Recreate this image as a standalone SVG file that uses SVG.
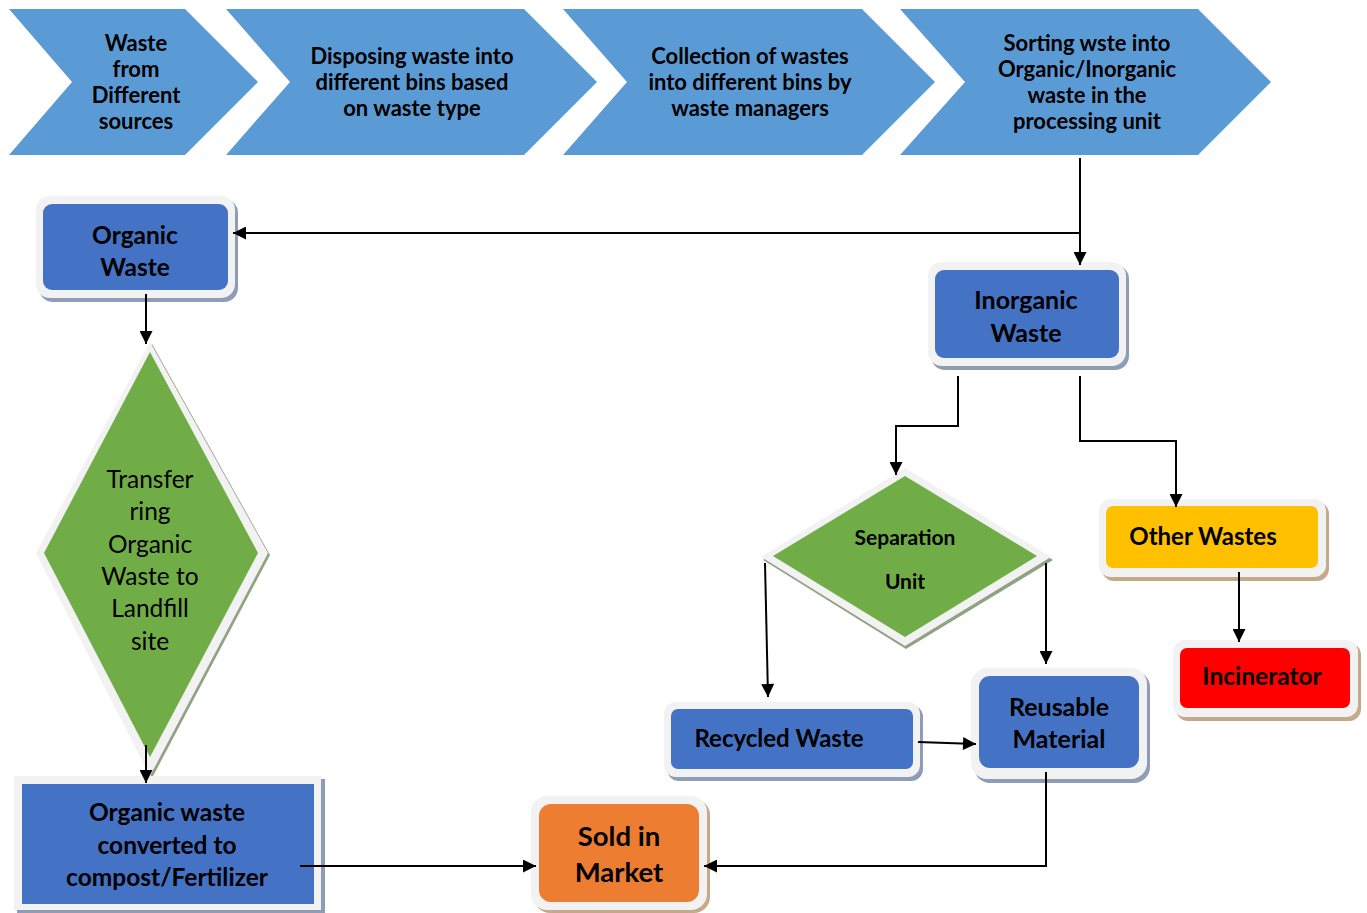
<svg xmlns="http://www.w3.org/2000/svg" width="1367" height="913" viewBox="0 0 1367 913">
<defs>
<marker id="ah" viewBox="0 0 10 10" refX="10" refY="5" markerWidth="14" markerHeight="13" markerUnits="userSpaceOnUse" orient="auto">
<path d="M0,0 L10,5 L0,10 z" fill="#000"/>
</marker>
<style>
.chev{fill:#5B9BD5}
.t{font-family:Lato,"Liberation Sans",sans-serif;font-weight:bold;fill:#000;text-anchor:middle;dominant-baseline:central}
.tr{font-family:Lato,"Liberation Sans",sans-serif;font-weight:normal;fill:#000;text-anchor:middle;dominant-baseline:central}
.rim{fill:#F2F2F2}
.sb{fill:#8E9CB6}
.so{fill:#C4A98A}
.sg{fill:#8FA283}
.blue{fill:#4472C4}
.c{fill:none;stroke:#000;stroke-width:2;marker-end:url(#ah)}
</style>
</defs>
<rect width="1367" height="913" fill="#fff"/>

<g id="step1">
<polygon class="chev" points="9,9 185,9 258,82 185,155 9,155 72,82"/>
<text class="t" font-size="22"><tspan x="136" y="42">Waste</tspan><tspan x="136" y="68">from</tspan><tspan x="136" y="94">Different</tspan><tspan x="136" y="120">sources</tspan></text>
</g>
<g id="step2">
<polygon class="chev" points="226,9 524,9 597,82 524,155 226,155 290,82"/>
<text class="t" font-size="22"><tspan x="412" y="55">Disposing waste into</tspan><tspan x="412" y="81">different bins based</tspan><tspan x="412" y="107">on waste type</tspan></text>
</g>
<g id="step3">
<polygon class="chev" points="563,9 862,9 935,82 862,155 563,155 627,82"/>
<text class="t" font-size="22"><tspan x="750" y="55">Collection of wastes</tspan><tspan x="750" y="81">into different bins by</tspan><tspan x="750" y="107">waste managers</tspan></text>
</g>
<g id="step4">
<polygon class="chev" points="900,9 1198,9 1271,82 1198,155 900,155 965,82"/>
<text class="t" font-size="22"><tspan x="1087" y="42">Sorting wste into</tspan><tspan x="1087" y="68">Organic/Inorganic</tspan><tspan x="1087" y="94">waste in the</tspan><tspan x="1087" y="120">processing unit</tspan></text>
</g>

<g id="organic-waste">
<rect class="sb" x="39" y="199" width="199" height="103" rx="14"/>
<rect class="rim" x="36" y="196" width="199" height="102" rx="14"/>
<rect class="blue" x="43" y="204" width="185" height="86" rx="9"/>
<text class="t" font-size="24.5"><tspan x="135" y="234">Organic</tspan><tspan x="135" y="266">Waste</tspan></text>
</g>

<g id="inorganic-waste">
<rect class="sb" x="931" y="265" width="198" height="105" rx="14"/>
<rect class="rim" x="928" y="262" width="198" height="104" rx="14"/>
<rect class="blue" x="935" y="270" width="184" height="88" rx="9"/>
<text class="t" font-size="25"><tspan x="1026" y="299">Inorganic</tspan><tspan x="1026" y="332">Waste</tspan></text>
</g>

<g id="landfill">
<polygon class="sg" points="152,344 270,555 152,778 38,555"/>
<polygon class="rim" points="150,342 268,553 150,776 36,553"/>
<polygon fill="#70AD47" points="150,352 258,553 150,757 44,553"/>
<text class="tr" font-size="24.5"><tspan x="150" y="478">Transfer</tspan><tspan x="150" y="510">ring</tspan><tspan x="150" y="543">Organic</tspan><tspan x="150" y="575">Waste to</tspan><tspan x="150" y="607">Landfill</tspan><tspan x="150" y="640">site</tspan></text>
</g>

<g id="compost">
<rect class="sb" x="17" y="779" width="308" height="134"/>
<rect class="rim" x="14" y="776" width="307" height="134"/>
<rect class="blue" x="22" y="784" width="292" height="120"/>
<text class="t" font-size="24.5"><tspan x="167" y="811">Organic waste</tspan><tspan x="167" y="844">converted to</tspan><tspan x="167" y="876">compost/Fertilizer</tspan></text>
</g>

<g id="sold-in-market">
<rect class="so" x="534" y="799" width="176" height="114" rx="16"/>
<rect class="rim" x="531" y="796" width="176" height="114" rx="16"/>
<rect fill="#ED7D31" x="539" y="804" width="160" height="98" rx="12"/>
<text class="t" font-size="27.5"><tspan x="619" y="835">Sold in</tspan><tspan x="619" y="871">Market</tspan></text>
</g>

<g id="separation-unit">
<polygon class="sg" points="906,471 1053,560 906,649 763,560"/>
<polygon class="rim" points="905,468 1051,557 905,646 761,557"/>
<polygon fill="#70AD47" points="905,476 1037,556 905,637 773,556"/>
<text class="t" font-size="21"><tspan x="905" y="536">Separation</tspan><tspan x="905" y="580">Unit</tspan></text>
</g>

<g id="recycled-waste">
<rect class="sb" x="667" y="705" width="256" height="76" rx="12"/>
<rect class="rim" x="664" y="702" width="256" height="75" rx="12"/>
<rect class="blue" x="671" y="709" width="242" height="60" rx="7"/>
<text class="t" font-size="24"><tspan x="779" y="737">Recycled Waste</tspan></text>
</g>

<g id="reusable-material">
<rect class="sb" x="974" y="671" width="176" height="112" rx="16"/>
<rect class="rim" x="971" y="668" width="176" height="111" rx="16"/>
<rect class="blue" x="979" y="676" width="160" height="92" rx="11"/>
<text class="t" font-size="25"><tspan x="1059" y="706">Reusable</tspan><tspan x="1059" y="738">Material</tspan></text>
</g>

<g id="other-wastes">
<rect class="so" x="1102" y="502" width="227" height="79" rx="12"/>
<rect class="rim" x="1099" y="499" width="227" height="78" rx="12"/>
<rect fill="#FFC000" x="1106" y="506" width="212" height="62" rx="7"/>
<text class="t" font-size="24"><tspan x="1203" y="535">Other Wastes</tspan></text>
</g>

<g id="incinerator">
<rect class="so" x="1176" y="643" width="185" height="78" rx="12"/>
<rect class="rim" x="1173" y="640" width="185" height="77" rx="12"/>
<rect fill="#FF0000" x="1180" y="648" width="170" height="60" rx="7"/>
<text class="t" font-size="24.5"><tspan x="1262" y="675">Incinerator</tspan></text>
</g>

<g id="connectors">
<path class="c" d="M1080,158 V265"/>
<path class="c" d="M1080,233 H233"/>
<path class="c" d="M146,294 V344"/>
<path class="c" d="M146,745 V783"/>
<path class="c" d="M300,866 H536"/>
<path class="c" d="M1046,772 V866 H704"/>
<path class="c" d="M958,376 V426 H896 V475"/>
<path class="c" d="M1080,376 V441 H1176 V507"/>
<path class="c" d="M765,563 L768,697"/>
<path class="c" d="M1046,563 V664"/>
<path class="c" d="M918,742 L976,744"/>
<path class="c" d="M1239,572 V642"/>
</g>
</svg>
